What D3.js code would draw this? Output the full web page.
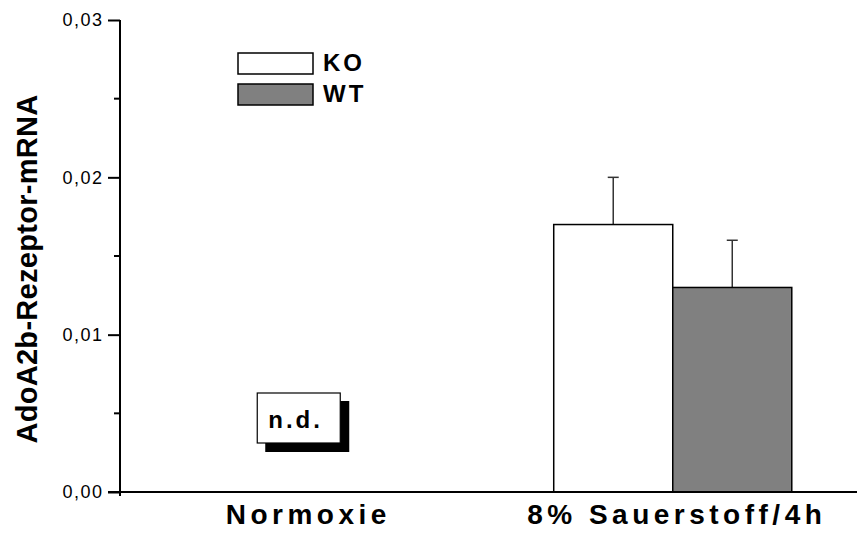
<!DOCTYPE html>
<html>
<head>
    <title>AdoA2b-Rezeptor-mRNA</title>
    <script src="https://d3js.org/d3.v7.min.js"></script>
    <style>
        body {
            margin: 0;
            padding: 0;
            background: #fff;
            font-family: "Liberation Sans", Arial, sans-serif;
        }
        svg text {
            fill: #000;
        }
    </style>
</head>
<body>
    <div id="chart"></div>

    <script>
        // Chart data
        const categories = ['Normoxie', '8% Sauerstoff/4h'];
        const series = ['KO', 'WT'];
        const seriesColors = ['#ffffff', '#808080'];
        // null = not detected (n.d.)
        const koValues = [null, 0.017];
        const koErrors = [null, 0.003];
        const wtValues = [null, 0.013];
        const wtErrors = [null, 0.003];
        const majorTicks = [0, 0.01, 0.02, 0.03];
        const minorTicks = [0.005, 0.015, 0.025];

        const width = 857;
        const height = 536;

        const svg = d3.select('#chart')
            .append('svg')
            .attr('width', width)
            .attr('height', height);

        // Scales
        const x = d3.scaleBand()
            .domain(categories)
            .range([120, 857])
            .padding(0);

        const bandInner = 0.646;
        const x1 = d3.scaleBand()
            .domain(series)
            .range([x.bandwidth() * (1 - bandInner) / 2, x.bandwidth() * (1 + bandInner) / 2])
            .padding(0);

        const y = d3.scaleLinear()
            .domain([0, 0.03])
            .range([492, 20]);

        // Bars
        const rows = [];
        categories.forEach((c, i) => {
            rows.push({cat: c, s: 'KO', v: koValues[i], e: koErrors[i], color: seriesColors[0]});
            rows.push({cat: c, s: 'WT', v: wtValues[i], e: wtErrors[i], color: seriesColors[1]});
        });
        const shown = rows.filter(d => d.v !== null);

        // Error bars (drawn behind bars)
        const err = svg.append('g')
            .attr('stroke', '#333')
            .attr('stroke-width', 1.5);
        shown.forEach(d => {
            const cx = x(d.cat) + x1(d.s) + x1.bandwidth() / 2;
            err.append('line')
                .attr('x1', cx).attr('x2', cx)
                .attr('y1', y(d.v)).attr('y2', y(d.v + d.e));
            err.append('line')
                .attr('x1', cx - 5.5).attr('x2', cx + 5.5)
                .attr('y1', y(d.v + d.e)).attr('y2', y(d.v + d.e));
        });

        svg.append('g')
            .selectAll('rect')
            .data(shown)
            .enter()
            .append('rect')
            .attr('x', d => x(d.cat) + x1(d.s))
            .attr('y', d => y(d.v))
            .attr('width', x1.bandwidth())
            .attr('height', d => y(0) - y(d.v))
            .attr('fill', d => d.color)
            .attr('stroke', '#000')
            .attr('stroke-width', 1.5);

        // n.d. marker for categories without values
        categories.forEach((c, i) => {
            if (koValues[i] !== null) return;
            const bx = x(c) + x.bandwidth() / 2 - 47;
            const by = 393;
            svg.append('rect')
                .attr('x', bx + 8).attr('y', by + 8)
                .attr('width', 84).attr('height', 51)
                .attr('fill', '#000');
            svg.append('rect')
                .attr('x', bx).attr('y', by)
                .attr('width', 83).attr('height', 50)
                .attr('fill', '#fff')
                .attr('stroke', '#000')
                .attr('stroke-width', 1.2);
            svg.append('text')
                .attr('x', bx + 11)
                .attr('y', by + 35)
                .style('font-size', '24px')
                .style('font-weight', 'bold')
                .style('letter-spacing', '3px')
                .text('n.d.');
        });

        // Y axis
        const yAxis = d3.axisLeft(y)
            .tickValues(majorTicks)
            .tickSize(12)
            .tickPadding(6)
            .tickFormat(d => d3.format('.2f')(d).replace('.', ','));

        const yG = svg.append('g')
            .attr('transform', 'translate(120,0)')
            .call(yAxis);
        yG.select('.domain').remove();
        yG.selectAll('.tick line').attr('stroke', '#000').attr('stroke-width', 2);
        yG.selectAll('.tick text')
            .style('font-size', '18px')
            .style('letter-spacing', '1.5px')
            .attr('dx', 1.5);

        svg.append('g')
            .selectAll('line')
            .data(minorTicks)
            .enter()
            .append('line')
            .attr('x1', 114).attr('x2', 120)
            .attr('y1', d => y(d)).attr('y2', d => y(d))
            .attr('stroke', '#000')
            .attr('stroke-width', 2);

        svg.append('line')
            .attr('x1', 120).attr('x2', 120)
            .attr('y1', y(0.03)).attr('y2', y(0) + 4)
            .attr('stroke', '#000')
            .attr('stroke-width', 2);

        // X axis
        svg.append('line')
            .attr('x1', 108).attr('x2', 857)
            .attr('y1', y(0)).attr('y2', y(0))
            .attr('stroke', '#000')
            .attr('stroke-width', 2);

        svg.append('g')
            .selectAll('text')
            .data(categories)
            .enter()
            .append('text')
            .attr('x', d => x(d) + x.bandwidth() / 2 + 4)
            .attr('y', 524)
            .attr('text-anchor', 'middle')
            .style('font-size', '28px')
            .style('font-weight', 'bold')
            .style('letter-spacing', '4.5px')
            .text(d => d);

        // Y axis title
        svg.append('text')
            .attr('transform', 'translate(37,269) rotate(-90)')
            .attr('text-anchor', 'middle')
            .style('font-size', '29px')
            .style('font-weight', 'bold')
            .style('letter-spacing', '0.3px')
            .text('AdoA2b-Rezeptor-mRNA');

        // Legend
        const legend = svg.append('g');
        series.forEach((s, i) => {
            const ly = 53 + i * 31;
            legend.append('rect')
                .attr('x', 238).attr('y', ly)
                .attr('width', 75).attr('height', 21)
                .attr('fill', seriesColors[i])
                .attr('stroke', '#000')
                .attr('stroke-width', 1.5);
            legend.append('text')
                .attr('x', 323)
                .attr('y', ly + 18)
                .style('font-size', '24px')
                .style('font-weight', 'bold')
                .style('letter-spacing', '3px')
                .text(s);
        });
    </script>
</body>
</html>
